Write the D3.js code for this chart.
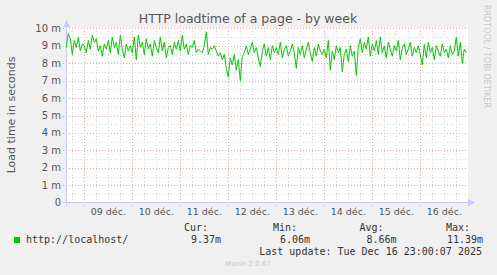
<!DOCTYPE html>
<html>
<head>
<meta charset="utf-8">
<script src="https://cdn.jsdelivr.net/npm/d3@7"></script>
<style>
  body { margin: 0; background: #f0f0f0; }
  svg { display: block; }
</style>
</head>
<body>
<div id="chart"></div>
<script>
// load time in ms, one value per hour, from 08 dec 15:00 to 16 dec 23:00
var loadDec08 = [8.9, 9.7, 9.4, 8.5, 9.3, 8.9, 9.5, 8.7, 9.1];
var loadDec09 = [9.0, 8.6, 9.3, 8.8, 9.6, 9.2, 9.4, 8.7, 9.0, 8.4, 9.1, 8.8, 9.3, 8.6, 9.5, 8.9, 9.2, 8.5, 9.6, 8.8, 8.3, 9.1, 8.7, 9.0];
var loadDec10 = [8.6, 9.5, 8.2, 9.6, 8.9, 9.2, 8.5, 9.4, 8.8, 9.1, 8.4, 9.3, 8.9, 8.6, 9.5, 8.7, 9.2, 8.3, 8.9, 9.0, 8.5, 9.2, 8.8, 9.3];
var loadDec11 = [8.7, 9.6, 8.8, 9.1, 8.5, 9.0, 8.9, 9.3, 8.6, 8.8, 8.7, 8.6, 9.0, 9.8, 8.5, 8.9, 8.8, 9.0, 8.7, 8.4, 8.6, 8.2, 8.5, 7.7];
var loadDec12 = [7.2, 8.3, 7.9, 8.5, 7.6, 8.2, 7.0, 8.4, 8.6, 9.0, 8.5, 8.8, 9.2, 8.6, 8.9, 8.3, 7.8, 8.7, 9.1, 8.4, 8.9, 8.2, 9.0, 8.6];
var loadDec13 = [8.9, 8.5, 9.2, 8.3, 8.8, 9.0, 8.4, 8.7, 9.1, 8.6, 7.7, 8.9, 8.5, 9.0, 8.3, 8.8, 9.2, 8.6, 8.1, 8.9, 8.4, 9.1, 8.7, 8.5];
var loadDec14 = [8.8, 8.3, 9.3, 7.6, 8.7, 8.2, 9.0, 8.6, 8.9, 7.5, 8.5, 8.8, 8.1, 9.0, 8.4, 8.7, 7.3, 8.9, 9.4, 8.6, 9.2, 8.8, 9.5, 8.4];
var loadDec15 = [9.1, 8.7, 9.3, 8.5, 9.5, 8.6, 9.0, 8.3, 9.2, 8.8, 8.4, 9.0, 8.7, 9.3, 8.2, 8.9, 9.1, 8.5, 8.8, 9.2, 8.4, 8.9, 8.6, 9.0];
var loadDec16 = [8.5, 7.9, 9.1, 8.3, 9.2, 8.6, 8.9, 8.2, 9.0, 8.7, 8.4, 9.1, 8.6, 8.8, 8.3, 9.0, 8.5, 8.7, 9.5, 8.4, 9.2, 8.0, 8.8, 8.6];

var yTicks = [0, 1, 2, 3, 4, 5, 6, 7, 8, 9, 10];
var legendHeads = ["Cur:", "Min:", "Avg:", "Max:"];
var legendValues = ["9.37m", "6.06m", "8.66m", "11.39m"];

var width = 497,
    height = 275;

var startTime = new Date(2025, 11, 8, 15),
    endTime = new Date(2025, 11, 17, 0);

var values = [].concat(loadDec08, loadDec09, loadDec10, loadDec11, loadDec12,
                       loadDec13, loadDec14, loadDec15, loadDec16);
var data = values.map(function(v, i) {
    return {t: d3.timeHour.offset(startTime, i), v: v};
});

var x = d3.scaleTime().domain([startTime, endTime]).range([66.3, 468.3]);
var y = d3.scaleLinear().domain([0, 10]).range([202.7, 28.3]);

var svg = d3.select("#chart")
    .append("svg")
    .attr("width", width)
    .attr("height", height)
    .style("font-family", "'DejaVu Sans', sans-serif");

svg.append("rect")
    .attr("width", width).attr("height", height)
    .style("fill", "#f0f0f0");

// plot area
svg.append("rect")
    .attr("x", 66).attr("y", 28)
    .attr("width", 402).attr("height", 175)
    .style("fill", "#ffffff");

// minor grid
var minorY = d3.range(0.5, 10, 1);
svg.append("g").selectAll("line")
    .data(minorY)
    .enter().append("line")
    .attr("x1", 66).attr("x2", 468)
    .attr("y1", function(d) { return Math.round(y(d)) + 0.5; })
    .attr("y2", function(d) { return Math.round(y(d)) + 0.5; })
    .style("stroke", "#d4d4d4")
    .style("stroke-dasharray", "1,2");

var minorX = d3.timeHour.every(6).range(startTime, endTime)
    .filter(function(d) { return d.getHours() != 0; });
svg.append("g").selectAll("line")
    .data(minorX)
    .enter().append("line")
    .attr("y1", 28).attr("y2", 203)
    .attr("x1", function(d) { return Math.round(x(d)) + 0.5; })
    .attr("x2", function(d) { return Math.round(x(d)) + 0.5; })
    .style("stroke", "#d4d4d4")
    .style("stroke-dasharray", "1,2");

// major grid
svg.append("g").selectAll("line")
    .data(yTicks.slice(1))
    .enter().append("line")
    .attr("x1", 63).attr("x2", 468)
    .attr("y1", function(d) { return Math.round(y(d)) + 0.5; })
    .attr("y2", function(d) { return Math.round(y(d)) + 0.5; })
    .style("stroke", "#f0a0a0")
    .style("stroke-dasharray", "1,2");

var days = d3.timeDay.range(startTime, endTime);
svg.append("g").selectAll("line")
    .data(days)
    .enter().append("line")
    .attr("y1", 28).attr("y2", 206)
    .attr("x1", function(d) { return Math.round(x(d)) + 0.5; })
    .attr("x2", function(d) { return Math.round(x(d)) + 0.5; })
    .style("stroke", "#f0a0a0")
    .style("stroke-dasharray", "1,2");

// axes with arrows
svg.append("line")
    .attr("x1", 66.5).attr("x2", 66.5)
    .attr("y1", 206).attr("y2", 24)
    .style("stroke", "#c8c8ff");
svg.append("path")
    .attr("d", "M63,27 L66.5,20 L70,27 Z")
    .style("fill", "#c8c8ff");
svg.append("line")
    .attr("x1", 63).attr("x2", 470)
    .attr("y1", 202.5).attr("y2", 202.5)
    .style("stroke", "#c8c8ff");
svg.append("path")
    .attr("d", "M468,199 L475,202.5 L468,206 Z")
    .style("fill", "#c8c8ff");

// y labels
svg.append("g").selectAll("text")
    .data(yTicks)
    .enter().append("text")
    .attr("x", 61)
    .attr("y", function(d) { return y(d) + 3.5; })
    .attr("text-anchor", "end")
    .style("font-size", "10px")
    .style("fill", "#555")
    .text(function(d) { return d == 0 ? "0" : d + " m"; });

// x labels at noon
svg.append("g").selectAll("text")
    .data(days)
    .enter().append("text")
    .attr("x", function(d) { return x(d3.timeHour.offset(d, 12)); })
    .attr("y", 215)
    .attr("text-anchor", "middle")
    .style("font-size", "9.5px")
    .style("fill", "#555")
    .text(function(d) { return d3.timeFormat("%d")(d) + " déc."; });

// the series
var line = d3.line()
    .x(function(d) { return x(d.t); })
    .y(function(d) { return y(d.v); });

svg.append("path")
    .datum(data)
    .attr("d", line)
    .style("fill", "none")
    .style("stroke", "#00cc00")
    .style("stroke-width", 1);

// titles
svg.append("text")
    .attr("x", 248).attr("y", 23)
    .attr("text-anchor", "middle")
    .style("font-size", "12.5px")
    .style("fill", "#555")
    .text("HTTP loadtime of a page - by week");

svg.append("text")
    .attr("transform", "translate(15,115) rotate(-90)")
    .attr("text-anchor", "middle")
    .style("font-size", "11px")
    .style("fill", "#555")
    .text("Load time in seconds");

svg.append("text")
    .attr("transform", "translate(484,5) rotate(90)")
    .attr("text-anchor", "start")
    .style("font-size", "8px")
    .style("fill", "#c8c8c8")
    .text("RRDTOOL / TOBI OETIKER");

// legend
var mono = "'DejaVu Sans Mono', monospace";
svg.append("rect")
    .attr("x", 14).attr("y", 237)
    .attr("width", 6).attr("height", 6)
    .style("fill", "#00cc00");
svg.append("text")
    .attr("x", 26).attr("y", 242.5)
    .style("font-family", mono)
    .style("font-size", "10px")
    .style("fill", "#333")
    .text("http://localhost/");

var headEnd = [208, 297, 383.5, 470];
var valueEnd = [221, 310, 396.5, 483];
svg.append("g").selectAll("text")
    .data(legendHeads)
    .enter().append("text")
    .attr("x", function(d, i) { return headEnd[i]; })
    .attr("y", 230.5)
    .attr("text-anchor", "end")
    .style("font-family", mono)
    .style("font-size", "10px")
    .style("fill", "#333")
    .text(function(d) { return d; });
svg.append("g").selectAll("text")
    .data(legendValues)
    .enter().append("text")
    .attr("x", function(d, i) { return valueEnd[i]; })
    .attr("y", 242.5)
    .attr("text-anchor", "end")
    .style("font-family", mono)
    .style("font-size", "10px")
    .style("fill", "#333")
    .text(function(d) { return d; });

svg.append("text")
    .attr("x", 482).attr("y", 255)
    .attr("text-anchor", "end")
    .style("font-family", mono)
    .style("font-size", "10px")
    .style("fill", "#333")
    .text("Last update: Tue Dec 16 23:00:07 2025");

svg.append("text")
    .attr("x", 248).attr("y", 266)
    .attr("text-anchor", "middle")
    .style("font-size", "7px")
    .style("fill", "#c8c8c8")
    .text("Munin 2.0.67");
</script>
</body>
</html>
